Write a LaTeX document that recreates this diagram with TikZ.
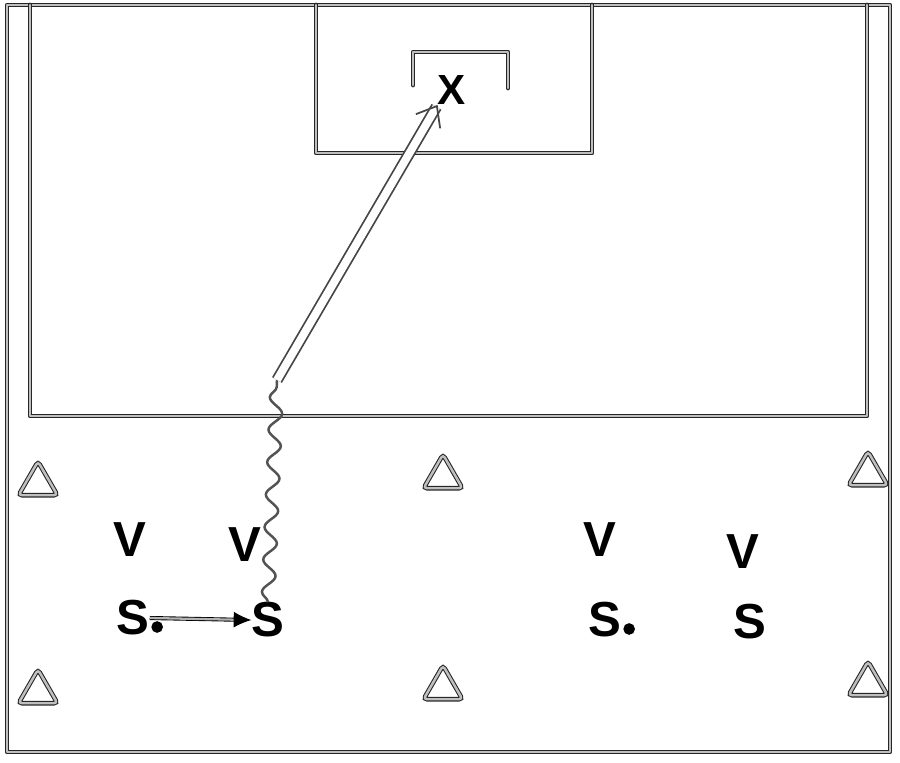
\documentclass[tikz,border=0pt]{standalone}
\usepackage{fontspec}
\setmainfont{Liberation Sans}
\usetikzlibrary{arrows.meta,decorations.pathmorphing,shapes.geometric,positioning}

\begin{document}
\begin{tikzpicture}[x=0.02cm, y=-0.02cm]
    \tikzstyle{line} = [draw=black!85, double=gray!50, double distance=1.5pt, line width=0.6pt,
                                      line join=round, line cap=round]
    \tikzstyle{cone} = [regular polygon, regular polygon sides=3, draw=black!85, double=gray!50,
                                      double distance=1.4pt, line width=0.6pt, rounded corners=2pt,
                                      minimum size=0.9cm, inner sep=0pt]
    \tikzstyle{player} = [font=\fontsize{28}{30}\selectfont\bfseries, inner sep=0pt]
    \tikzstyle{ball} = [circle, draw, line width=3pt, inner sep=0pt, minimum size=0.12cm]
    \tikzstyle{pass} = [draw=black, double=gray!60, double distance=1.3pt, line width=0.5pt,
                                      -{Latex[length=10pt, width=9pt]}]
    \tikzstyle{dribble} = [draw=gray!65!black, line width=1.4pt, decorate,
                                      decoration={snake, amplitude=0.13cm, segment length=0.65cm}]
    \tikzstyle{shot} = [draw=gray!55!black, double=white, double distance=4.5pt, line width=1pt,
                                      -{Straight Barb[length=10pt, width=16pt]}]
  \useasboundingbox (0,0) rectangle (900,762);
  % pitch
  \draw[line] (7,5) rectangle (890,752);
  \draw[line] (30,5) -- (30,416) -- (867,416) -- (867,5);
  \draw[line] (316,5) -- (316,153) -- (592,153) -- (592,5);
  \draw[line] (413,85) -- (413,52) -- (508,52) -- (508,88);
  % cones
  \node[cone] (c1) at (38,484) {};
  \node[cone] (c2) at (443,477) {};
  \node[cone] (c3) at (868,474) {};
  \node[cone] (c4) at (38,692) {};
  \node[cone] (c5) at (443,688) {};
  \node[cone] (c6) at (868,684) {};
  % players
  \node[player] (v1) at (130,540) {V};
  \node[player] (v2) at (245,545) {V};
  \node[player] (v3) at (600,540) {V};
  \node[player] (v4) at (743,552) {V};
  \node[player] (s1) at (133,618) {S};
  \node[player] (s2) at (268,620) {S};
  \node[player] (s3) at (605,620) {S};
  \node[player] (s4) at (750,622) {S};
  \node[ball, right=1pt of s1.south east, yshift=5pt] (b1) {};
  \node[ball, right=1pt of s3.south east, yshift=5pt] (b2) {};
  \node[player, font=\fontsize{24}{26}\selectfont\bfseries] (x) at (452,90) {X};
  \coordinate (turn) at (277,380);
  % moves
  \draw[pass] (s1.east) -- (s2.west);
  \draw[dribble] (s2.north) -- (turn);
  \draw[shot] (turn) -- (x.south west);
\end{tikzpicture}
\end{document}
